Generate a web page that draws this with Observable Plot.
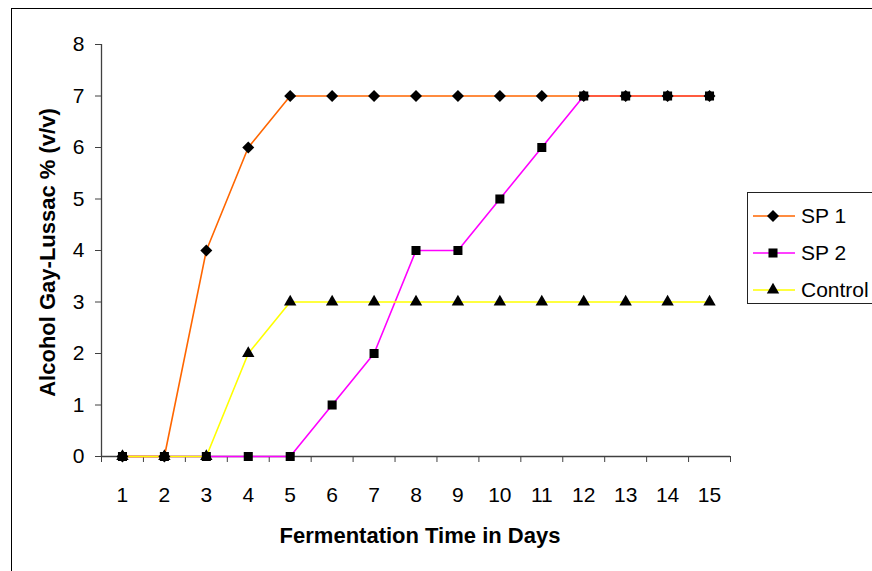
<!DOCTYPE html>
<html>
<head>
<meta charset="utf-8">
<script src="https://cdn.jsdelivr.net/npm/d3@7"></script>
<script src="https://cdn.jsdelivr.net/npm/@observablehq/plot@0.6"></script>
<style>
  html, body { margin: 0; padding: 0; background: #fff; overflow: hidden; }
  #wrap { position: relative; width: 872px; height: 571px; overflow: hidden; font-family: "Liberation Sans", Arial, sans-serif; }
  #frame { position: absolute; left: 11px; top: 8px; width: 900px; height: 600px; border: 1.5px solid #000; pointer-events: none; }
  #legend { position: absolute; left: 747px; top: 192px; width: 140px; height: 112px; border: 1.5px solid #222; background: #fff; box-sizing: border-box; padding-top: 4px; }
  .row { display: flex; align-items: center; height: 37px; padding-left: 5px; font-size: 21px; color: #000; }
  .row svg { display: block; margin-right: 6px; }
</style>
</head>
<body>
<div id="wrap"><div id="frame"></div></div>
<script>
// ---- data ----
const days = [1,2,3,4,5,6,7,8,9,10,11,12,13,14,15];
const sp1 = [0,0,4,6,7,7,7,7,7,7,7,7,7,7,7];
const sp2 = [0,0,0,0,0,1,2,4,4,5,6,7,7,7,7];
const control = [0,0,0,2,3,3,3,3,3,3,3,3,3,3,3];
const yTicks = [0,1,2,3,4,5,6,7,8];
const seriesNames = ["SP 1", "SP 2", "Control"];
const seriesColors = ["#FF6600", "#FF00FF", "#FFFF00"];
const seriesSymbols = ["diamond2", "square", "triangle"];
const xTitle = "Fermentation Time in Days";
const yTitle = "Alcohol Gay-Lussac % (v/v)";

const toRows = (vals) => days.map((d, i) => ({day: d, value: vals[i]}));
const r1 = toRows(sp1), r2 = toRows(sp2), r3 = toRows(control);
const halfTicks = d3.range(0, days.length + 1).map(i => i + 0.5);
const symR = {diamond2: 5.4, square: 5.1, triangle: 4.6};
const axisColor = "#404040";

const chart = Plot.plot({
  width: 872,
  height: 571,
  marginLeft: 101,
  marginRight: 142,
  marginTop: 44,
  marginBottom: 115,
  style: {fontFamily: "'Liberation Sans', Arial, sans-serif", fontSize: "21px", color: "#000", background: "transparent"},
  x: {domain: [0.5, 15.5]},
  y: {domain: [0, 8]},
  marks: [
    Plot.axisY({ticks: yTicks, tickSize: 6, tickPadding: 11, stroke: axisColor, fill: "#000", fontSize: 21, label: null}),
    Plot.axisX({ticks: halfTicks, tickSize: 6, tickFormat: () => "", stroke: axisColor, label: null}),
    Plot.axisX({ticks: days, tickSize: 0, tickPadding: 31, fill: "#000", fontSize: 21, label: null}),
    Plot.ruleX([0.5], {stroke: axisColor, strokeWidth: 1.3}),
    Plot.ruleY([0], {stroke: axisColor, strokeWidth: 1.3}),
    Plot.line(r2, {x: "day", y: "value", stroke: seriesColors[1], strokeWidth: 1.6}),
    Plot.line(r1, {x: "day", y: "value", stroke: seriesColors[0], strokeWidth: 1.6}),
    Plot.line(r3, {x: "day", y: "value", stroke: seriesColors[2], strokeWidth: 1.6}),
    Plot.dot(r1, {x: "day", y: "value", symbol: seriesSymbols[0], r: symR.diamond2, fill: "#000", stroke: "none"}),
    Plot.dot(r3, {x: "day", y: "value", symbol: seriesSymbols[2], r: symR.triangle, fill: "#000", stroke: "none"}),
    Plot.dot(r2, {x: "day", y: "value", symbol: seriesSymbols[1], r: symR.square, fill: "#000", stroke: "none"}),
    Plot.text([xTitle], {frameAnchor: "bottom", dy: 79, dx: 4, textAnchor: "middle", lineAnchor: "middle", fontWeight: "bold", fontSize: 22, fill: "#000"}),
    Plot.text([yTitle], {frameAnchor: "left", dx: -54, dy: 2, rotate: -90, textAnchor: "middle", lineAnchor: "middle", fontWeight: "bold", fontSize: 22, fill: "#000"})
  ]
});

const wrap = document.getElementById("wrap");
wrap.insertBefore(chart, wrap.firstChild);

// ---- legend ----
const legend = document.createElement("div");
legend.id = "legend";
const symTypes = {diamond2: d3.symbolDiamond2, square: d3.symbolSquare, triangle: d3.symbolTriangle};
seriesNames.forEach((name, i) => {
  const row = document.createElement("div");
  row.className = "row";
  const svg = d3.create("svg").attr("width", 42).attr("height", 20);
  svg.append("line").attr("x1", 0).attr("x2", 42).attr("y1", 10).attr("y2", 10)
    .attr("stroke", seriesColors[i]).attr("stroke-width", 1.6);
  const rr = symR[seriesSymbols[i]];
  svg.append("path").attr("transform", "translate(20,10)")
    .attr("d", d3.symbol().type(symTypes[seriesSymbols[i]]).size(Math.PI * rr * rr)())
    .attr("fill", "#000");
  row.appendChild(svg.node());
  const span = document.createElement("span");
  span.textContent = name;
  row.appendChild(span);
  legend.appendChild(row);
});
wrap.appendChild(legend);
</script>
</body>
</html>
